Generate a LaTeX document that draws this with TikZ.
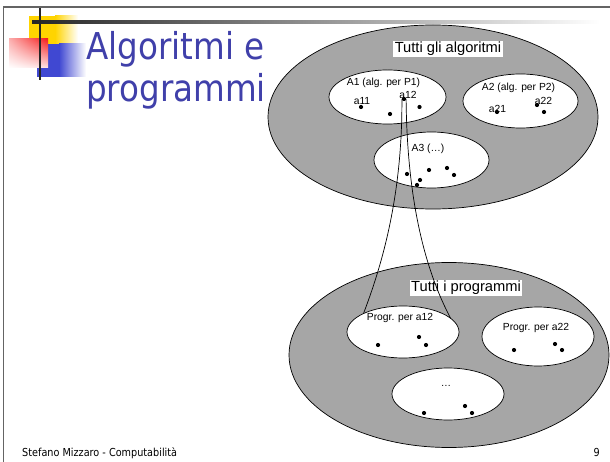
\documentclass[tikz,border=0pt]{standalone}
\usepackage{fontspec}
\setmainfont{Liberation Sans}
\newfontfamily\slidefont[FakeStretch=0.88]{DejaVu Sans}
\usetikzlibrary{shapes.geometric,shadings}
\definecolor{titleblue}{RGB}{64,64,170}
\definecolor{setgray}{RGB}{166,166,166}
\definecolor{framegray}{RGB}{100,100,100}
\definecolor{decoyellow}{RGB}{255,212,0}
\definecolor{decoblue}{RGB}{64,72,210}
\definecolor{decored}{RGB}{245,30,30}
\begin{document}
\begin{tikzpicture}[x=1pt,y=-1pt,
  bigset/.style={ellipse, draw=black, line width=0.7pt, fill=setgray, inner sep=0pt, outer sep=0pt},
  subset/.style={ellipse, draw=black, line width=0.7pt, fill=white, inner sep=0pt, outer sep=0pt, minimum width=112pt},
  elem/.style={circle, fill=black, inner sep=0pt, outer sep=0pt, minimum size=4.2pt},
  lbl/.style={font=\fontsize{10.3}{12}\selectfont, inner sep=0pt},
  setname/.style={fill=white, inner sep=1.5pt, font=\fontsize{14.7}{16}\selectfont},
  map/.style={draw=black, line width=0.7pt}]
\useasboundingbox (0,0) rectangle (610,462);
\fill[white] (0,0) rectangle (610,462);

% slide frame
\draw[framegray, line width=1.2pt] (3.5,462) -- (3.5,7) -- (610,7);

% corner decoration
\fill[decoyellow] (29,16) rectangle (55,44);
\shade[left color=decoyellow, right color=white] (55,16) rectangle (78,44);
\shade[left color=black!85, right color=white] (32,20.8) rectangle (600,23.3);
\fill[decoblue] (37,44) rectangle (59,77);
\shade[left color=decoblue, right color=white] (59,44) rectangle (86,77);
\shade[upper left=decored!35, upper right=decored, lower left=white, lower right=decored!12] (9,39) rectangle (48,68);
\fill[black!85] (39,8) rectangle (41.2,80);

% title
\node[anchor=base west, inner sep=0pt, text=titleblue, font=\slidefont\fontsize{37}{42}\selectfont] (title1) at (86,60) {Algoritmi e};
\node[anchor=base west, inner sep=0pt, text=titleblue, font=\slidefont\fontsize{37}{42}\selectfont] (title2) at (86,102) {programmi};

% footer
\node[anchor=base west, inner sep=0pt, font=\slidefont\fontsize{11}{13}\selectfont] (foot) at (22,456) {Stefano Mizzaro - Computabilità};
\node[anchor=base east, inner sep=0pt, font=\slidefont\fontsize{11}{13}\selectfont] (pagenum) at (600,456) {9};

% the set of all algorithms
\node[bigset, minimum width=330pt, minimum height=184pt] (algs) at (433,117) {};
\node[setname] (algsT) at (448,49) {Tutti gli algoritmi};
\node[subset, minimum width=117pt, minimum height=54pt] (A1) at (387.5,97) {};
\node[subset, minimum width=115pt, minimum height=54pt] (A2) at (520.5,101) {};
\node[subset, minimum width=115pt, minimum height=56pt] (A3) at (431.5,160) {};
\node[lbl] (A1T) at (383.5,83) {A1 (alg. per P1)};
\node[lbl] (A2T) at (518.5,87.5) {A2 (alg. per P2)};
\node[lbl] (A3T) at (428,149) {A3 (\dots)};
\node[lbl] (a11T) at (362,101) {a11};
\node[lbl] (a12T) at (408,94.5) {a12};
\node[lbl] (a21T) at (497.5,109) {a21};
\node[lbl] (a22T) at (543.5,101) {a22};
\node[elem] (a11) at (361,107) {};
\node[elem] (a12) at (404,99) {};
\node[elem] (a13) at (390,114) {};
\node[elem] (a14) at (419.5,107) {};
\node[elem] (a21) at (497,112) {};
\node[elem] (a22) at (537,105) {};
\node[elem] (a23) at (544,112) {};
\node[elem] (a31) at (407,174) {};
\node[elem] (a32) at (429,170) {};
\node[elem] (a33) at (447,168) {};
\node[elem] (a34) at (454,175) {};
\node[elem] (a35) at (420,180) {};
\node[elem] (a36) at (417,185) {};

% the set of all programs
\node[bigset, minimum width=320pt, minimum height=185pt] (progs) at (449,355) {};
\node[setname] (progsT) at (466,288) {Tutti i programmi};
\node[subset, minimum height=52pt] (P1) at (403,332) {};
\node[subset, minimum height=59pt] (P2) at (538,336.5) {};
\node[subset, minimum height=52pt] (P3) at (448,394) {};
\node[lbl] (P1T) at (400,318) {Progr. per a12};
\node[lbl] (P2T) at (536,328) {Progr. per a22};
\node[lbl] (P3T) at (446,386) {\dots};
\node[elem] (p11) at (378,345) {};
\node[elem] (p12) at (419,337) {};
\node[elem] (p13) at (426,345) {};
\node[elem] (p21) at (514,350) {};
\node[elem] (p22) at (555,344) {};
\node[elem] (p23) at (562,350) {};
\node[elem] (p31) at (424,413) {};
\node[elem] (p32) at (465,406) {};
\node[elem] (p33) at (472,413) {};

% algorithm a12 mapped onto its programs
\draw[map] (a12.west) .. controls (402.5,200) and (380,270) .. (P1.155);
\draw[map] (a12.east) .. controls (407,200) and (425,270) .. (P1.16);
\end{tikzpicture}
\end{document}
